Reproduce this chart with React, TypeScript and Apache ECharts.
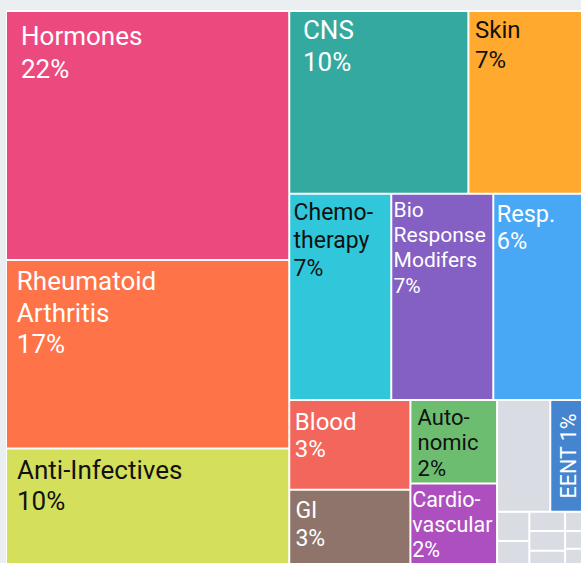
import React, { useEffect, useRef } from 'react';
import * as echarts from 'echarts';

// Share of prescriptions by therapeutic class (percent of total)
const categories = [
  'Hormones',
  'Rheumatoid Arthritis',
  'Anti-Infectives',
  'CNS',
  'Skin',
  'Chemotherapy',
  'Bio Response Modifers',
  'Resp.',
  'Blood',
  'GI',
  'Autonomic',
  'Cardiovascular',
  'Other',
  'EENT',
  'Minor A',
  'Minor B',
  'Minor C',
  'Minor D',
  'Minor E',
  'Minor F',
  'Minor G',
  'Minor H',
];

const shares = [
  21.8, 16.5, 10.45, 10.12, 6.7, 6.5, 6.5, 5.97, 3.36, 2.93, 2.24, 2.26, 1.84, 1.27,
  0.29, 0.27, 0.21, 0.22, 0.19, 0.13, 0.12, 0.13,
];

// Text shown in each tile (the percentage line is appended from the value)
const labelLines: Record<string, string[]> = {
  Hormones: ['Hormones'],
  'Rheumatoid Arthritis': ['Rheumatoid', 'Arthritis'],
  'Anti-Infectives': ['Anti-Infectives'],
  CNS: ['CNS'],
  Skin: ['Skin'],
  Chemotherapy: ['Chemo-', 'therapy'],
  'Bio Response Modifers': ['Bio', 'Response', 'Modifers'],
  'Resp.': ['Resp.'],
  Blood: ['Blood'],
  GI: ['GI'],
  Autonomic: ['Auto-', 'nomic'],
  Cardiovascular: ['Cardio-', 'vascular'],
  EENT: ['EENT'],
};

const fills = [
  '#ec4a7e', '#ff7349', '#d4e05b', '#34a9a0', '#ffa92f', '#30c7db', '#845fc4',
  '#48a8f5', '#f2665c', '#8e746a', '#6dbd70', '#ad4fbf', '#d9dde3', '#4585d0',
  '#d9dde3', '#d9dde3', '#d9dde3', '#d9dde3', '#d9dde3', '#d9dde3', '#d9dde3', '#d9dde3',
];

const WHITE = '#ffffff';
const DARK = '#111111';

type TileLabel = {
  size: number;
  lh: number;
  pos: [number, number] | 'inside';
  color: string;
  rotate?: number;
  inline?: boolean;
};

const tileLabels: Record<string, TileLabel> = {
  Hormones: { size: 26, lh: 33, pos: [14, 7.5], color: WHITE },
  'Rheumatoid Arthritis': { size: 26, lh: 31.3, pos: [9.8, 4.5], color: WHITE },
  'Anti-Infectives': { size: 26, lh: 31, pos: [10, 4.5], color: DARK },
  CNS: { size: 26, lh: 32, pos: [12.7, 2.3], color: WHITE },
  Skin: { size: 24, lh: 30, pos: [5.7, 3.2], color: DARK },
  Chemotherapy: { size: 23, lh: 27.8, pos: [3.3, 4.3], color: DARK },
  'Bio Response Modifers': { size: 21, lh: 25.3, pos: [1.3, 2.4], color: WHITE },
  'Resp.': { size: 23.5, lh: 27, pos: [2.5, 5.7], color: WHITE },
  Blood: { size: 24, lh: 27.3, pos: [4.6, 7.5], color: WHITE },
  GI: { size: 23, lh: 28, pos: [5.2, 5.3], color: WHITE },
  Autonomic: { size: 22, lh: 25.2, pos: [6.2, 4.1], color: DARK },
  Cardiovascular: { size: 21.5, lh: 25, pos: [0.8, 2.1], color: WHITE },
  EENT: { size: 21.5, lh: 24, pos: 'inside', color: WHITE, rotate: 90, inline: true },
};

export default function App() {
  const ref = useRef<HTMLDivElement>(null);

  useEffect(() => {
    if (!ref.current) return;
    const chart = echarts.init(ref.current, undefined, { renderer: 'svg' });

    const data = categories.map((name, i) => {
      const t = tileLabels[name];
      return {
        name,
        value: shares[i],
        itemStyle: { color: fills[i] },
        label: t
          ? {
              show: true,
              position: t.pos,
              fontSize: t.size,
              lineHeight: t.lh,
              color: t.color,
              rotate: t.rotate || 0,
            }
          : { show: false },
      };
    });

    chart.setOption({
      animation: false,
      series: [
        {
          type: 'treemap',
          left: 7,
          top: 12,
          width: 579,
          height: 555,
          squareRatio: 1.58,
          sort: false,
          roam: false,
          nodeClick: false,
          silent: true,
          visibleMin: 0,
          breadcrumb: { show: false },
          itemStyle: { borderWidth: 0, gapWidth: 2, borderColor: '#ffffff' },
          label: {
            show: true,
            fontFamily: 'Roboto',
            padding: 0,
            overflow: 'none',
            formatter: (p: any) => {
              const lines = labelLines[p.name];
              if (!lines) return '';
              const pct = Math.round(p.value) + '%';
              const t = tileLabels[p.name];
              return t && t.inline ? lines.join(' ') + ' ' + pct : [...lines, pct].join('\n');
            },
          },
          emphasis: { disabled: true },
          data,
        },
      ],
    });

    return () => chart.dispose();
  }, []);

  return (
    <div
      style={{
        position: 'fixed',
        left: 0,
        top: 0,
        width: 581,
        height: 563,
        overflow: 'hidden',
        background: '#eceff1',
      }}
    >
      <div
        style={{
          position: 'absolute',
          left: 6,
          top: 10,
          width: 600,
          height: 600,
          background: '#ffffff',
        }}
      />
      <div ref={ref} style={{ position: 'absolute', left: 0, top: 0, width: 581, height: 563 }} />
    </div>
  );
}
